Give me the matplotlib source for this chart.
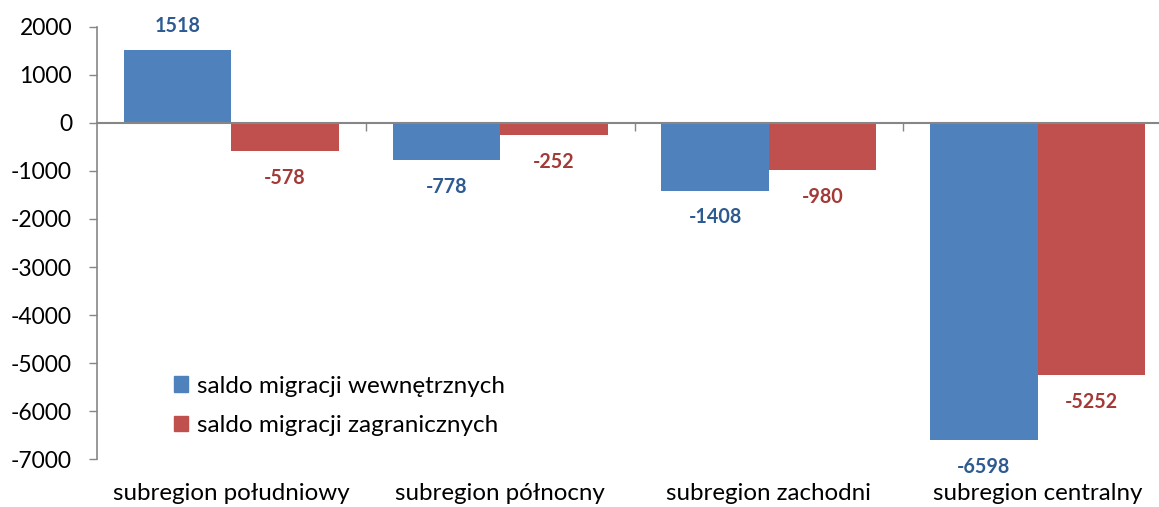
import matplotlib
matplotlib.use("Agg")
import matplotlib.pyplot as plt
import matplotlib.transforms as mtransforms
from matplotlib.patches import Patch
import numpy as np

categories = ["subregion południowy", "subregion północny", "subregion zachodni", "subregion centralny"]
internal = [1518, -778, -1408, -6598]
foreign = [-578, -252, -980, -5252]
series_names = ["saldo migracji wewnętrznych", "saldo migracji zagranicznych"]
yticks = [2000, 1000, 0, -1000, -2000, -3000, -4000, -5000, -6000, -7000]

plt.rcParams['font.family'] = ['Lato', 'DejaVu Sans']

blue = '#4F81BD'
red = '#C0504D'
blue_lbl = '#2C5A91'
red_lbl = '#A33A37'
grey = '#868686'

fig = plt.figure(figsize=(11.59, 5.07), dpi=100)
ax = fig.add_axes([97/1159, 1-459/507, (1172-97)/1159, (459-27)/507])

x = np.arange(len(categories))
w = 0.4
b1 = ax.bar(x - w/2, internal, w, color=blue, label=series_names[0])
b2 = ax.bar(x + w/2, foreign, w, color=red, label=series_names[1])

ax.set_xlim(-0.5, len(categories) - 0.5)
ax.set_ylim(-7000, 2000)
ax.set_yticks(yticks)
ax.set_yticklabels([str(v) for v in yticks], fontsize=16.5)
ax.tick_params(axis='y', length=6, width=1, color=grey, pad=12)

ax.spines['top'].set_visible(False)
ax.spines['right'].set_visible(False)
ax.spines['left'].set_color(grey)
ax.spines['bottom'].set_color(grey)
ax.spines['left'].set_linewidth(1.2)
ax.spines['bottom'].set_linewidth(1.5)
ax.spines['bottom'].set_position(('data', 0))
ax.set_xticks(np.arange(len(categories) - 1) + 0.5)
ax.set_xticklabels([])
ax.tick_params(axis='x', length=6, width=1, color=grey, direction='out')

trans = mtransforms.blended_transform_factory(ax.transData, ax.transAxes)
for xi, c in zip(x, categories):
    ax.text(xi, -0.08, c, transform=trans, ha='center', va='center', fontsize=17.4)

for bars, vals, col in ((b1, internal, blue_lbl), (b2, foreign, red_lbl)):
    for rect, v in zip(bars, vals):
        cx = rect.get_x() + rect.get_width()/2
        if v >= 0:
            ax.text(cx, v + 510, str(v), ha='center', va='center', color=col,
                    fontsize=14.2, fontweight='bold')
        else:
            ax.text(cx, v - 560, str(v), ha='center', va='center', color=col,
                    fontsize=14.2, fontweight='bold')

handles = [Patch(color=blue), Patch(color=red)]
leg = ax.legend(handles, series_names, loc='upper left', bbox_to_anchor=((174-97)/1075, 0.193),
                frameon=False, fontsize=17.5, handlelength=0.58, handleheight=0.58,
                handletextpad=0.37, labelspacing=0.77, borderpad=0, borderaxespad=0)

fig.savefig("out.png", dpi=100)
